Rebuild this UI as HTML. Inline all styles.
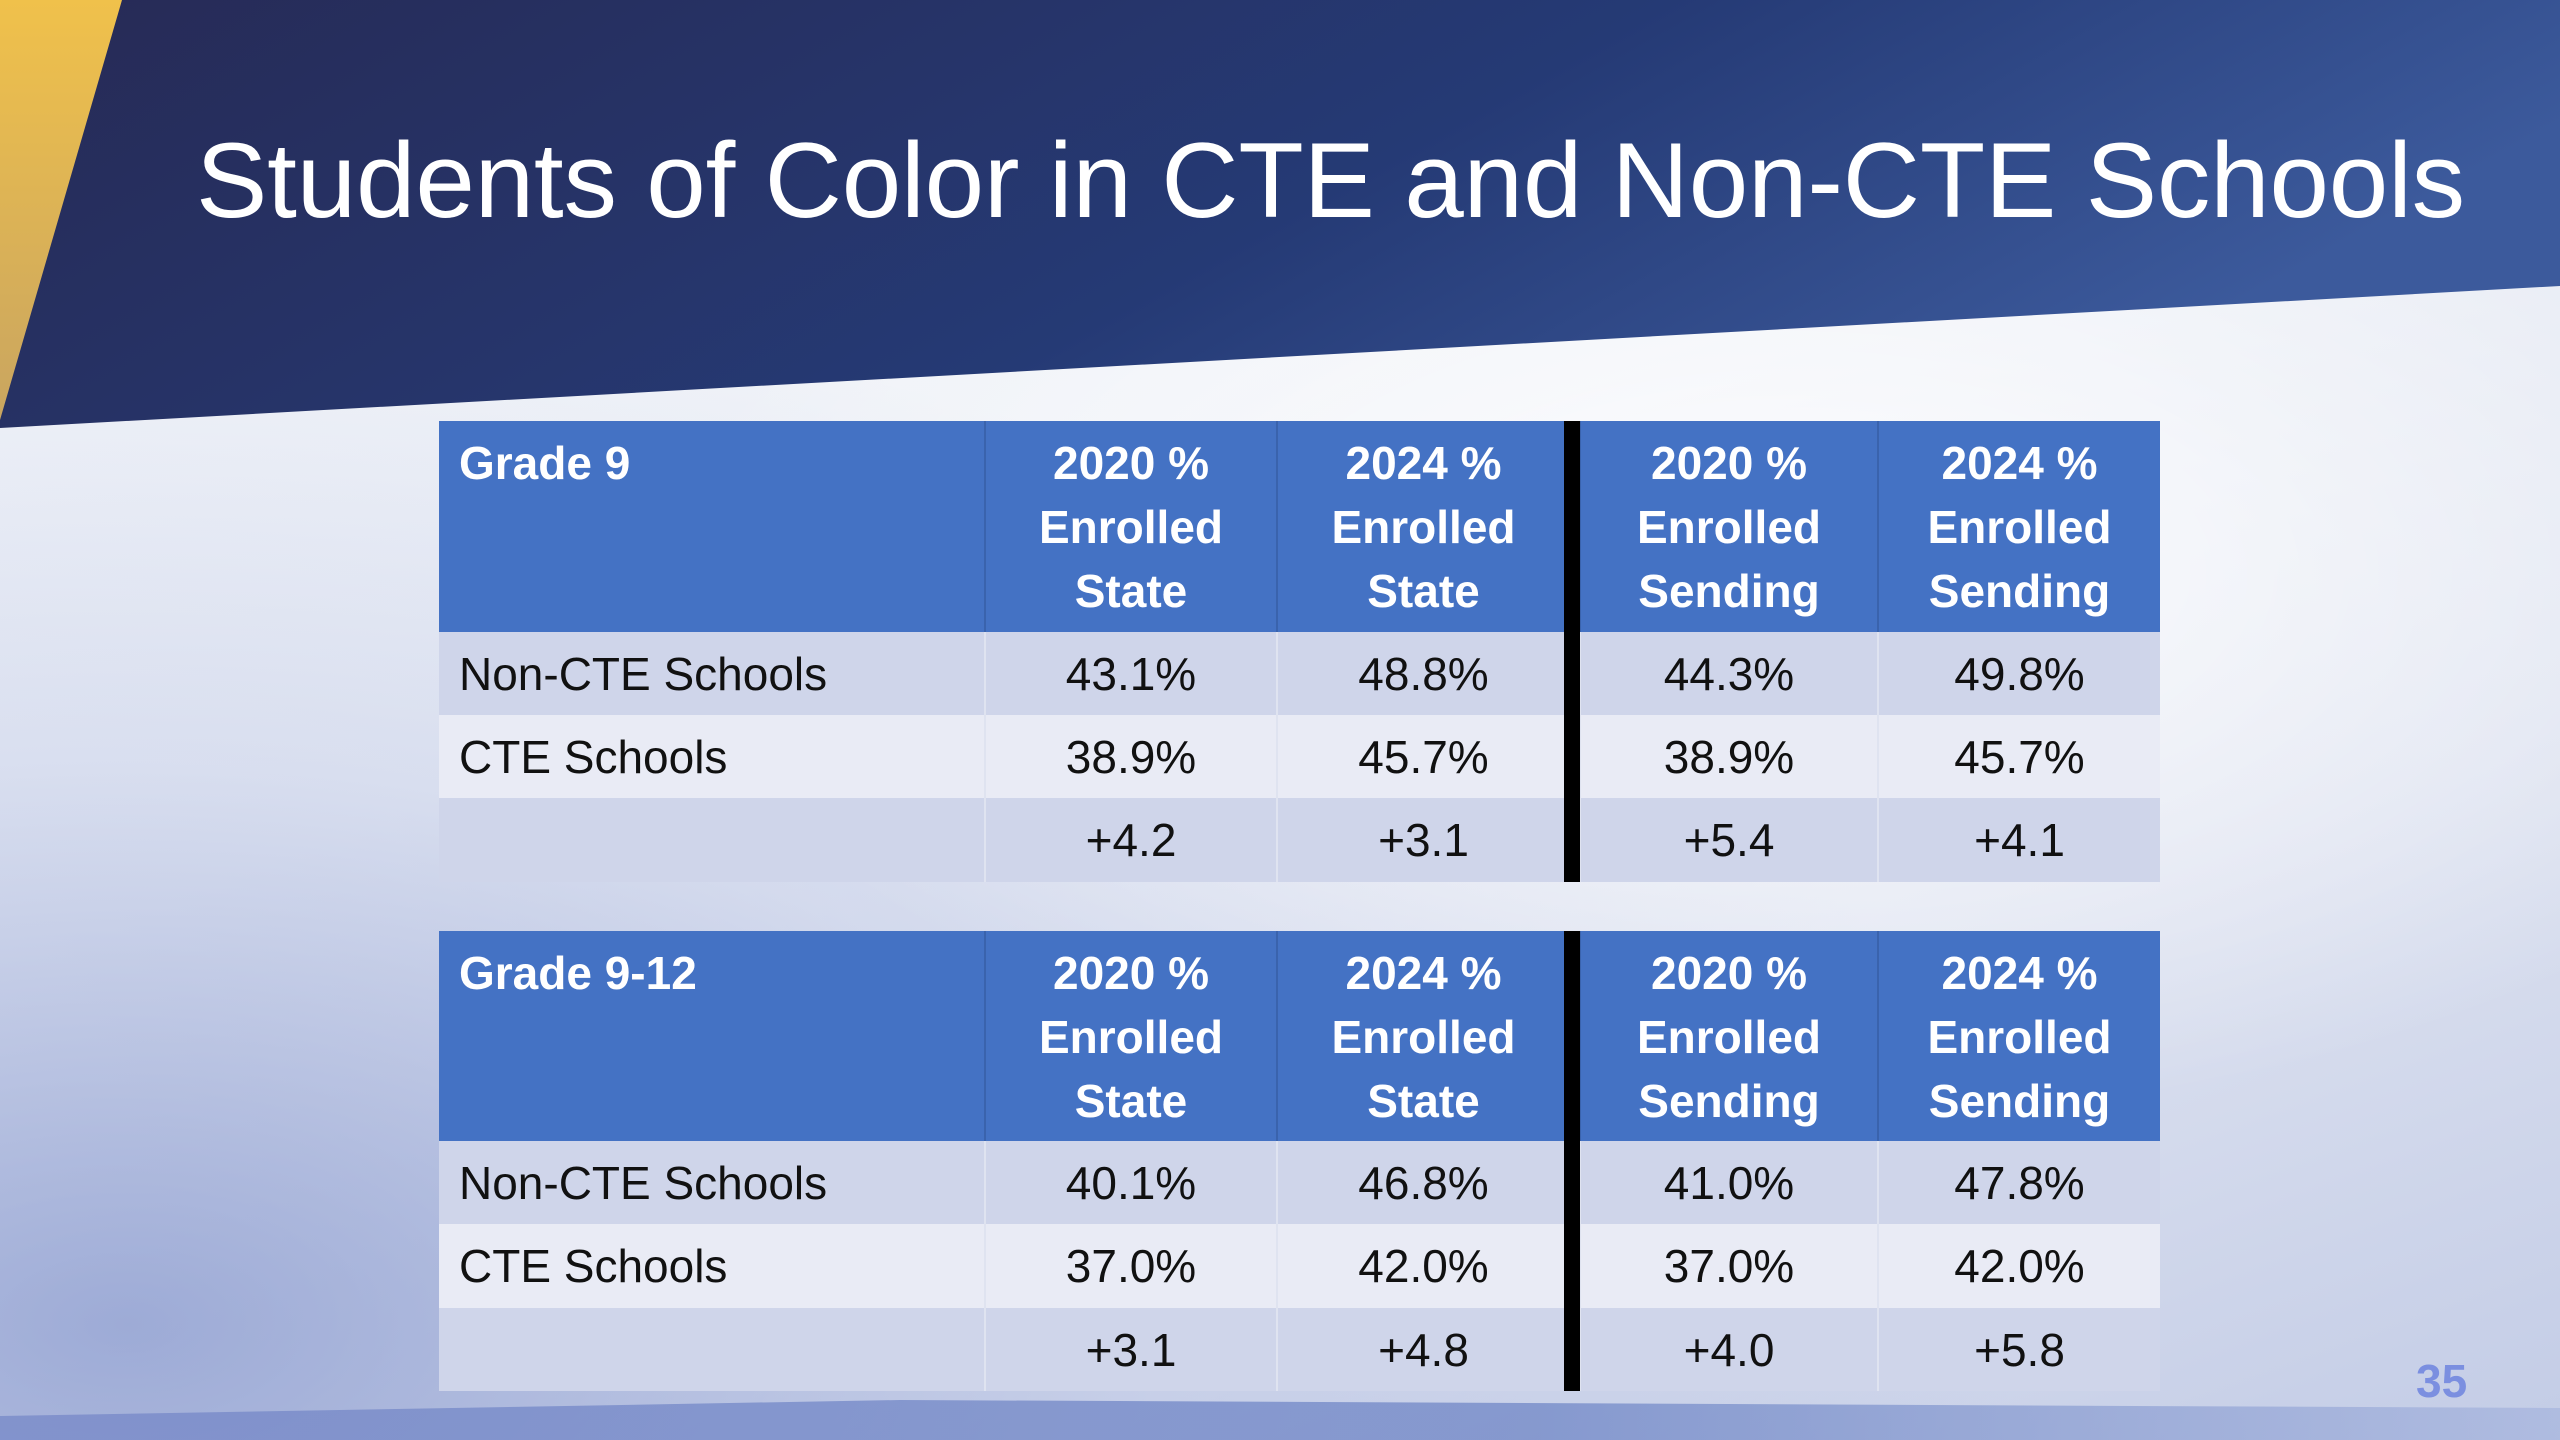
<!DOCTYPE html>
<html><head><meta charset="utf-8"><style>
html,body{margin:0;padding:0}
body{width:2560px;height:1440px;position:relative;overflow:hidden;font-family:"Liberation Sans",sans-serif;
background:linear-gradient(160deg,#f4f6fa 0%,#eef1f7 40%,#dde2f0 70%,#c3cce6 100%)}
.bg2{position:absolute;left:0;top:0;width:2560px;height:1440px;background:radial-gradient(ellipse at 5% 92%,rgba(110,130,195,0.6) 0%,rgba(150,165,215,0.25) 30%,rgba(255,255,255,0) 55%)}
.bg3{position:absolute;left:0;top:0;width:2560px;height:1440px;background:radial-gradient(ellipse at 70% 40%,rgba(255,255,255,0.9) 0%,rgba(255,255,255,0) 45%)}
svg.band{position:absolute;left:0;top:0}
h1{position:absolute;left:196px;top:118px;margin:0;color:#fff;font-weight:normal;font-size:107px;letter-spacing:-0.2px;white-space:nowrap}
table{position:absolute;left:439px;border-collapse:collapse;table-layout:fixed;width:1721px}
td,th{padding:0;font-size:46px;color:#111;text-align:center;overflow:hidden;white-space:nowrap}
th{background:#4472c4;color:#fff;font-weight:bold;vertical-align:top;line-height:64px;padding-top:10px;border-left:2px solid #3a63ad}
th.l{text-align:left;padding-left:20px;border-left:none}
td.l{text-align:left;padding-left:20px}
th.c3,td.c3{padding-right:10px}
tr.r1 td{background:#cfd5ea}
tr.r2 td{background:#e9ebf5}
tr.r3 td{background:#cfd5ea}
td+td{border-left:2px solid #dfe3f0}
.bar{position:absolute;left:1564px;width:16px;background:#000}
.pn{position:absolute;left:2416px;top:1354px;color:#7b8fe0;font-size:46px;font-weight:bold}
</style></head><body>
<div class="bg2"></div>
<div class="bg3"></div>
<svg class="band" width="2560" height="1440">
<defs><linearGradient id="g" x1="0" y1="0" x2="1" y2="0.3"><stop offset="0" stop-color="#272a55"/><stop offset="0.6" stop-color="#253a75"/><stop offset="1" stop-color="#3c5a9c"/></linearGradient>
<linearGradient id="y" x1="0" y1="0" x2="0" y2="1"><stop offset="0" stop-color="#f0c14b"/><stop offset="1" stop-color="#c9a560"/></linearGradient>
<linearGradient id="b" x1="0" y1="0" x2="1" y2="0"><stop offset="0" stop-color="#7688c8"/><stop offset="0.6" stop-color="#6f86c6"/><stop offset="1" stop-color="#a8b6de"/></linearGradient></defs>
<polygon points="0,0 2560,0 2560,286 0,428" fill="url(#g)"/>
<polygon points="0,0 122,0 0,420" fill="url(#y)"/>
<polygon points="0,1416 900,1400 2560,1408 2560,1440 0,1440" fill="url(#b)" opacity="0.75"/>
</svg>
<h1>Students of Color in CTE and Non-CTE Schools</h1>

<table style="top:421px">
<colgroup><col style="width:546px"><col style="width:292px"><col style="width:303px"><col style="width:298px"><col style="width:282px"></colgroup>
<tr style="height:211px"><th class="l">Grade 9</th><th>2020 %<br>Enrolled<br>State</th><th class="c3">2024 %<br>Enrolled<br>State</th><th>2020 %<br>Enrolled<br>Sending</th><th>2024 %<br>Enrolled<br>Sending</th></tr>
<tr class="r1" style="height:83px"><td class="l">Non-CTE Schools</td><td>43.1%</td><td class="c3">48.8%</td><td>44.3%</td><td>49.8%</td></tr>
<tr class="r2" style="height:83px"><td class="l">CTE Schools</td><td>38.9%</td><td class="c3">45.7%</td><td>38.9%</td><td>45.7%</td></tr>
<tr class="r3" style="height:84px"><td class="l"></td><td>+4.2</td><td class="c3">+3.1</td><td>+5.4</td><td>+4.1</td></tr>
</table>
<div class="bar" style="top:421px;height:461px"></div>

<table style="top:931px">
<colgroup><col style="width:546px"><col style="width:292px"><col style="width:303px"><col style="width:298px"><col style="width:282px"></colgroup>
<tr style="height:210px"><th class="l">Grade 9-12</th><th>2020 %<br>Enrolled<br>State</th><th class="c3">2024 %<br>Enrolled<br>State</th><th>2020 %<br>Enrolled<br>Sending</th><th>2024 %<br>Enrolled<br>Sending</th></tr>
<tr class="r1" style="height:83px"><td class="l">Non-CTE Schools</td><td>40.1%</td><td class="c3">46.8%</td><td>41.0%</td><td>47.8%</td></tr>
<tr class="r2" style="height:84px"><td class="l">CTE Schools</td><td>37.0%</td><td class="c3">42.0%</td><td>37.0%</td><td>42.0%</td></tr>
<tr class="r3" style="height:83px"><td class="l"></td><td>+3.1</td><td class="c3">+4.8</td><td>+4.0</td><td>+5.8</td></tr>
</table>
<div class="bar" style="top:931px;height:460px"></div>

<div class="pn">35</div>
</body></html>
